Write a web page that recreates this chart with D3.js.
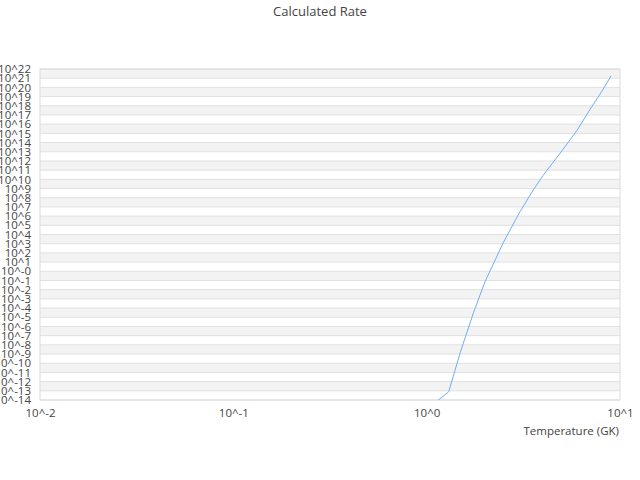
<!DOCTYPE html>
<html>
<head>
<meta charset="utf-8">
<script src="https://cdn.jsdelivr.net/npm/d3@7"></script>
<style>
  body { margin: 0; background: #fff; }
  text { font-family: "Open Sans", sans-serif; fill: #444; }
</style>
</head>
<body>
<div id="chart"></div>
<script>
// temperature (GK) and calculated rate
const temperatures = [1.0, 1.3, 1.5, 1.75, 2, 2.5, 3, 3.5, 4, 5, 6, 7, 8, 9];
const rates = [9.3e-16, 7.9e-14, 2.1e-9, 3.5e-5, 6.9e-2, 1.5e3, 1.9e6, 4.0e8,
               2.7e10, 1.2e13, 2.2e15, 4.1e17, 3.0e19, 1.8e21];

const xTickValues = [0.01, 0.1, 1, 10];
const xTickLabels = ["10^-2", "10^-1", "10^0", "10^1"];

const yExponents = d3.range(-14, 23);   // -14 .. 22
const yTickLabels = ["10^-14", "10^-13", "10^-12", "10^-11", "10^-10", "10^-9",
  "10^-8", "10^-7", "10^-6", "10^-5", "10^-4", "10^-3", "10^-2", "10^-1", "10^-0",
  "10^1", "10^2", "10^3", "10^4", "10^5", "10^6", "10^7", "10^8", "10^9", "10^10",
  "10^11", "10^12", "10^13", "10^14", "10^15", "10^16", "10^17", "10^18", "10^19",
  "10^20", "10^21", "10^22"];

let width = 640,
height = 480;
let margin = {top: 69, right: 20, bottom: 80, left: 40};
let innerW = width - margin.left - margin.right,
innerH = height - margin.top - margin.bottom;

let svg = d3.select("#chart")
.append("svg")
.attr("width", width)
.attr("height", height);

let x = d3.scaleLog().domain([0.01, 10]).range([0, innerW]);
let y = d3.scaleLog().domain([1e-14, 1e22]).range([innerH, 0]);

let g = svg.append("g")
.attr("transform", `translate(${margin.left},${margin.top})`);

// alternating bands, top band shaded
const yTicks = yExponents.map(e => Math.pow(10, e));
g.selectAll("rect.band")
.data(yTicks.slice(0, -1))
.join("rect")
.attr("class", "band")
.attr("x", 0)
.attr("width", innerW)
.attr("y", (d, i) => y(yTicks[i + 1]))
.attr("height", (d, i) => y(d) - y(yTicks[i + 1]))
.attr("fill", (d, i) => (yTicks.length - 2 - i) % 2 === 0 ? "#f3f3f3" : "#fff");

// horizontal grid lines
g.selectAll("line.grid")
.data(yTicks)
.join("line")
.attr("class", "grid")
.attr("x1", 0)
.attr("x2", innerW)
.attr("y1", d => y(d))
.attr("y2", d => y(d))
.attr("stroke", "#e0e0e0")
.attr("stroke-width", 1);

// border
g.append("rect")
.attr("width", innerW)
.attr("height", innerH)
.attr("fill", "none")
.attr("stroke", "#dcdcdc");

// y axis
let yAxis = g.append("g")
.call(d3.axisLeft(y).tickValues(yTicks).tickSize(0).tickPadding(9)
  .tickFormat((d, i) => yTickLabels[i]));
yAxis.select(".domain").remove();
yAxis.selectAll("text").style("font-size", "11.5px").attr("fill", "#555");

// x axis
let xAxis = g.append("g")
.attr("transform", `translate(0,${innerH})`)
.call(d3.axisBottom(x).tickValues(xTickValues).tickSize(0).tickPadding(9)
  .tickFormat((d, i) => xTickLabels[i]));
xAxis.select(".domain").remove();
xAxis.selectAll("text").style("font-size", "11.5px").attr("fill", "#555");

// clip the line to the plot area
svg.append("defs").append("clipPath").attr("id", "plot-clip")
.append("rect").attr("width", innerW).attr("height", innerH);

let line = d3.line()
.x((d, i) => x(temperatures[i]))
.y(d => y(d));

g.append("path")
.datum(rates)
.attr("clip-path", "url(#plot-clip)")
.attr("fill", "none")
.attr("stroke", "#6eaef8")
.attr("stroke-width", 1)
.attr("d", line);

// title and axis title
svg.append("text")
.attr("x", width / 2)
.attr("y", 16)
.attr("text-anchor", "middle")
.style("font-size", "13px")
.text("Calculated Rate");

svg.append("text")
.attr("x", margin.left + innerW - 1)
.attr("y", 435)
.attr("text-anchor", "end")
.style("font-size", "11.5px")
.attr("fill", "#555")
.text("Temperature (GK)");
</script>
</body>
</html>
